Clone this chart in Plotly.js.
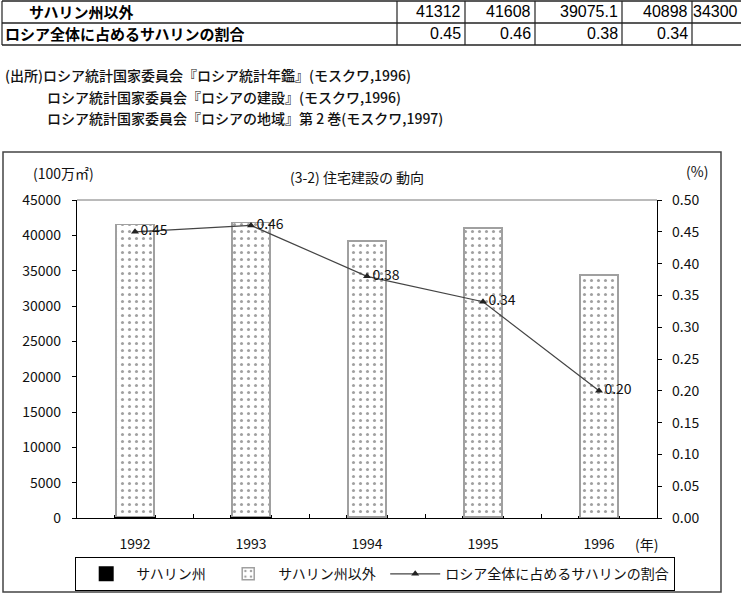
<!DOCTYPE html>
<html>
<head>
<meta charset="utf-8">
<script src="https://cdn.plot.ly/plotly-3.0.1.min.js"></script>
<style>html,body{margin:0;padding:0;background:#fff;overflow:hidden}#chart{width:741px;height:595px}</style>
</head>
<body>
<div id="chart"></div>
<script>
// ---- data ----
const years = ['1992', '1993', '1994', '1995', '1996'];
const sakhalin = [187, 192, 149, 140, 69];                 // サハリン州 (estimated)
const otherRegions = [41312, 41608, 39075.1, 40898, 34300]; // サハリン州以外
const sharePct = [0.45, 0.46, 0.38, 0.34, 0.20];            // ロシア全体に占めるサハリンの割合
const seriesNames = ['サハリン州', 'サハリン州以外', 'ロシア全体に占めるサハリンの割合'];
const tableRowLabels = ['サハリン州以外', 'ロシア全体に占めるサハリンの割合'];
const sourceLines = [
  '(出所)ロシア統計国家委員会『ロシア統計年鑑』(モスクワ,1996)',
  'ロシア統計国家委員会『ロシアの建設』(モスクワ,1996)',
  'ロシア統計国家委員会『ロシアの地域』第 2 巻(モスクワ,1997)'
];
const chartTitle = '(3-2) 住宅建設の 動向';
const yLeftUnit = '(100万㎡)';
const yRightUnit = '(%)';
const xUnit = '(年)';

// ---- pixel helpers (plot area) ----
const W = 741, H = 595;
const L = 77, R = 657, T = 200, B = 518;
const X = px => (px - L) / (R - L);
const Y = py => (B - py) / (B - T);

const FONT = '"Noto Sans CJK JP", "Noto Sans", sans-serif';
const NUMFONT = '"Liberation Sans Narrow", "Arial Narrow", "Liberation Sans", Arial, sans-serif';

const traces = [
  {
    type: 'bar', name: seriesNames[0], x: years, y: sakhalin, width: 0.33,
    marker: {color: '#000', line: {color: '#000', width: 3}},
    yaxis: 'y', legendwidth: 77
  },
  {
    type: 'bar', name: seriesNames[1], x: years, y: otherRegions, width: 0.33,
    marker: {
      color: '#fff',
      line: {color: '#a0a0a0', width: 1.5},
      pattern: {shape: '.', fgcolor: '#a0a0a0', bgcolor: '#fff', size: 7, solidity: 0.15}
    },
    yaxis: 'y', legendwidth: 102
  },
  {
    type: 'scatter', mode: 'lines+markers+text', name: seriesNames[2], x: years, y: sharePct,
    yaxis: 'y2',
    line: {color: '#444', width: 1.2},
    marker: {symbol: 'triangle-up', size: 7, color: '#222'},
    text: sharePct.map(v => v.toFixed(2)),
    textposition: 'middle right',
    textfont: {family: FONT, size: 14, color: '#111'},
    cliponaxis: false
  }
];

// ---- table + notes as annotations/shapes ----
const ann = [];
const shapes = [];
function txt(text, px, py, anchor, opts) {
  ann.push(Object.assign({
    text: text, xref: 'paper', yref: 'paper', x: X(px), y: Y(py),
    xanchor: anchor, yanchor: 'middle', showarrow: false,
    font: {family: FONT, size: 14, color: '#111'}
  }, opts || {}));
}
function line(x0, y0, x1, y1, color, width) {
  shapes.push({type: 'line', xref: 'paper', yref: 'paper', x0: X(x0), y0: Y(y0), x1: X(x1), y1: Y(y1),
    line: {color: color || '#000', width: width || 1}});
}
// table grid
line(2, 1, 741, 1, '#222', 1.5);
line(2, 23, 741, 23, '#222', 1.5);
line(2, 45, 741, 45, '#222', 1.5);
[2, 397, 465, 535, 622, 692].forEach(x => line(x, 1, x, 45, '#222', 1.2));
// table text
txt(tableRowLabels[0], 27, 12, 'left', {font: {family: FONT, size: 15, color: '#000', weight: 'bold'}});
txt(tableRowLabels[1], 3, 34, 'left', {font: {family: FONT, size: 15, color: '#000', weight: 'bold'}});
const cellRight = [463, 533, 620, 690, 740];
cellRight.forEach((rx, i) => {
  txt(String(otherRegions[i]), rx, 12, 'right', {font: {family: NUMFONT, size: 16, color: '#000'}});
  if (i < 4) txt(sharePct[i].toFixed(2), rx, 34, 'right', {font: {family: NUMFONT, size: 16, color: '#000'}});
});

// source notes
txt(sourceLines[0], 3, 75, 'left', {font: {family: FONT, size: 14, color: '#111', weight: 500}});
txt(sourceLines[1], 45, 97, 'left', {font: {family: FONT, size: 14, color: '#111', weight: 500}});
txt(sourceLines[2], 45, 118, 'left', {font: {family: FONT, size: 14, color: '#111', weight: 500}});

// chart frame
shapes.push({type: 'rect', xref: 'paper', yref: 'paper', x0: X(3), x1: X(721), y0: Y(592), y1: Y(152),
  line: {color: '#444', width: 1.5}, layer: 'below'});
line(L, T, R, T, '#777', 1);

// unit labels
txt(yLeftUnit, 63, 173, 'center');
txt(yRightUnit, 697, 171, 'center');
txt(xUnit, 646, 544, 'center');

const layout = {
  width: W, height: H,
  margin: {l: L, r: W - R, t: T, b: H - B, pad: 0, autoexpand: false},
  paper_bgcolor: '#fff', plot_bgcolor: '#fff',
  font: {family: FONT, size: 14, color: '#111'},
  title: {text: chartTitle, x: 357 / W, xanchor: 'center', y: 1 - 178 / H, yanchor: 'middle',
    font: {family: FONT, size: 14, color: '#111'}},
  barmode: 'stack',
  showlegend: true,
  legend: {
    orientation: 'h', xref: 'paper', yref: 'paper',
    x: X(75), y: Y(591), xanchor: 'left', yanchor: 'bottom',
    bordercolor: '#000', borderwidth: 1.2, bgcolor: '#fff', itemwidth: 50,
    font: {family: FONT, size: 14, color: '#111'}, traceorder: 'normal'
  },
  xaxis: {
    type: 'category', showline: true, linecolor: '#000', linewidth: 1.2,
    ticks: 'inside', ticklen: 4, tickcolor: '#000', tickson: 'boundaries',
    showgrid: false, zeroline: false, ticklabelstandoff: 13, automargin: false,
    tickfont: {family: FONT, size: 14, color: '#111'}
  },
  yaxis: {
    range: [0, 45000], dtick: 5000, tickformat: 'd',
    showline: true, linecolor: '#000', linewidth: 1.2, automargin: false,
    ticks: 'outside', ticklen: 4, tickcolor: '#000', ticklabelstandoff: 8,
    showgrid: false, zeroline: false,
    tickfont: {family: FONT, size: 14, color: '#111'}
  },
  yaxis2: {
    range: [0, 0.5], dtick: 0.05, tickformat: '.2f', overlaying: 'y', side: 'right',
    showline: true, linecolor: '#000', linewidth: 1.2, automargin: false,
    ticks: 'outside', ticklen: 4, tickcolor: '#000', ticklabelstandoff: 7,
    showgrid: false, zeroline: false,
    tickfont: {family: FONT, size: 14, color: '#111'}
  },
  annotations: ann,
  shapes: shapes
};

Plotly.newPlot('chart', traces, layout, {displayModeBar: false, staticPlot: true});
</script>
</body>
</html>
